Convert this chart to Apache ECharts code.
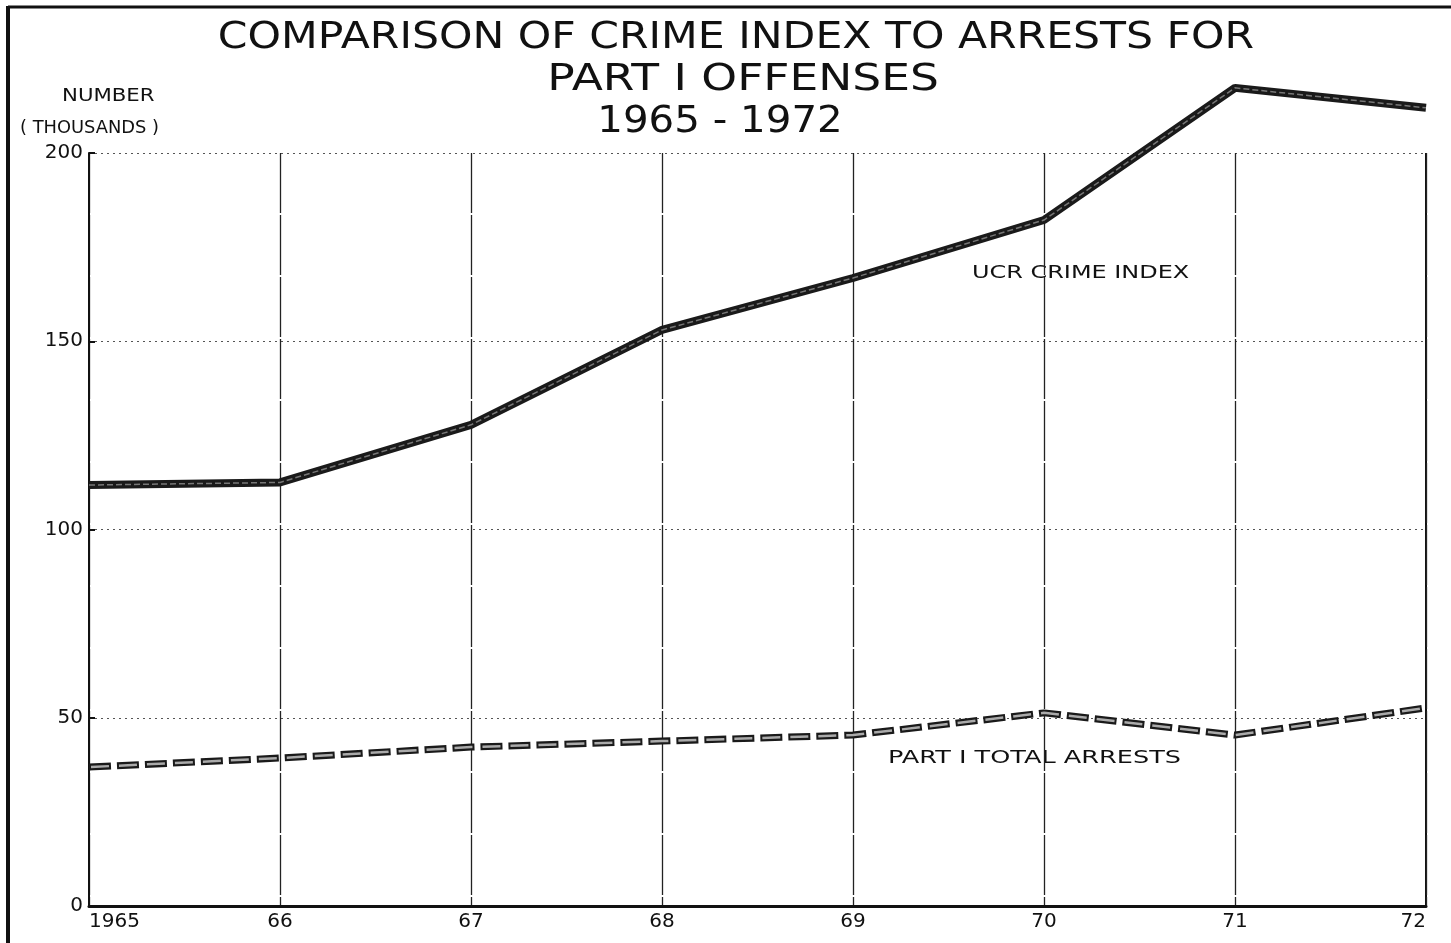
<!DOCTYPE html>
<html>
<head>
<meta charset="utf-8">
<script src="https://cdn.jsdelivr.net/npm/echarts@6/dist/echarts.min.js"></script>
<style>
  html, body { margin: 0; padding: 0; background: #fff; }
  #chart { width: 1451px; height: 943px; }
</style>
</head>
<body>
<div id="chart"></div>
<script>
// years along the bottom
const years = ['1965', '66', '67', '68', '69', '70', '71', '72'];
// thousands
const crimeIndex = [111.8, 112.5, 127.8, 153, 166.8, 182.2, 217.3, 212];
const totalArrests = [36.9, 39.3, 42.2, 43.8, 45.4, 51.3, 45.4, 52.6];
const yTicks = [0, 50, 100, 150, 200];

const ink = '#111';
const font = 'DejaVu Sans';

// hand-lettered text is wide, so stretch it sideways
const lettering = (text, x, y, size, sx, align) => ({
  type: 'text',
  x: x,
  y: y,
  scaleX: sx,
  style: {
    text: text,
    fill: ink,
    font: size + 'px "' + font + '"',
    textAlign: align || 'left',
    textVerticalAlign: 'middle'
  }
});

const chart = echarts.init(document.getElementById('chart'));

chart.setOption({
  animation: false,
  backgroundColor: '#fff',
  grid: { left: 89, right: 25, top: 153, bottom: 37 },
  xAxis: {
    type: 'category',
    data: years,
    boundaryGap: false,
    axisLine: { lineStyle: { color: ink, width: 3 } },
    axisTick: { show: false },
    axisLabel: {
      color: ink, fontFamily: font, fontSize: 20, margin: 6,
      alignMinLabel: 'left', alignMaxLabel: 'right'
    },
    splitLine: { show: true, lineStyle: { color: '#222', width: 1.3, type: [60, 2] } }
  },
  yAxis: {
    type: 'value',
    min: 0,
    max: 200,
    interval: 50,
    axisLine: { show: true, lineStyle: { color: ink, width: 2 } },
    axisTick: { show: true, inside: true, length: 6, lineStyle: { color: ink, width: 2 } },
    axisLabel: {
      color: ink, fontFamily: font, fontSize: 20, margin: 6,
      formatter: v => yTicks.includes(v) ? String(v) : ''
    },
    splitLine: { show: true, lineStyle: { color: '#555', width: 1, type: [2, 4] } }
  },
  series: [
    {
      name: 'UCR CRIME INDEX',
      type: 'line',
      data: crimeIndex,
      clip: false,
      symbol: 'none',
      lineStyle: { color: '#1a1a1a', width: 8 },
      z: 3
    },
    {
      name: 'UCR CRIME INDEX (inner)',
      type: 'line',
      data: crimeIndex,
      clip: false,
      symbol: 'none',
      lineStyle: { color: '#777', width: 1.5, type: [6, 3] },
      z: 4
    },
    {
      name: 'PART I TOTAL ARRESTS',
      type: 'line',
      data: totalArrests,
      clip: false,
      symbol: 'none',
      lineStyle: { color: '#1a1a1a', width: 7, type: [22, 6] },
      z: 3
    },
    {
      name: 'PART I TOTAL ARRESTS (inner)',
      type: 'line',
      data: totalArrests,
      clip: false,
      symbol: 'none',
      lineStyle: { color: '#aaa', width: 2.5, type: [18, 10], dashOffset: -2 },
      z: 4
    }
  ],
  graphic: [
    // page frame
    { type: 'line', shape: { x1: 8, y1: 6, x2: 8, y2: 943 }, style: { stroke: ink, lineWidth: 4 } },
    { type: 'line', shape: { x1: 8, y1: 7, x2: 1451, y2: 7 }, style: { stroke: ink, lineWidth: 3 } },
    // right edge of plot
    { type: 'line', shape: { x1: 1426, y1: 153, x2: 1426, y2: 906 }, style: { stroke: ink, lineWidth: 2 } },
    lettering('COMPARISON OF CRIME INDEX TO ARRESTS FOR', 736, 38, 37, 1.15, 'center'),
    lettering('PART I OFFENSES', 743, 80, 37, 1.23, 'center'),
    lettering('1965 - 1972', 720, 122, 37, 1.09, 'center'),
    lettering('NUMBER', 62, 97, 17, 1.25),
    lettering('( THOUSANDS )', 20, 129, 17, 1.05),
    lettering('UCR CRIME INDEX', 972, 273, 18, 1.33),
    lettering('PART I TOTAL ARRESTS', 888, 758, 18, 1.42)
  ]
});
</script>
</body>
</html>
